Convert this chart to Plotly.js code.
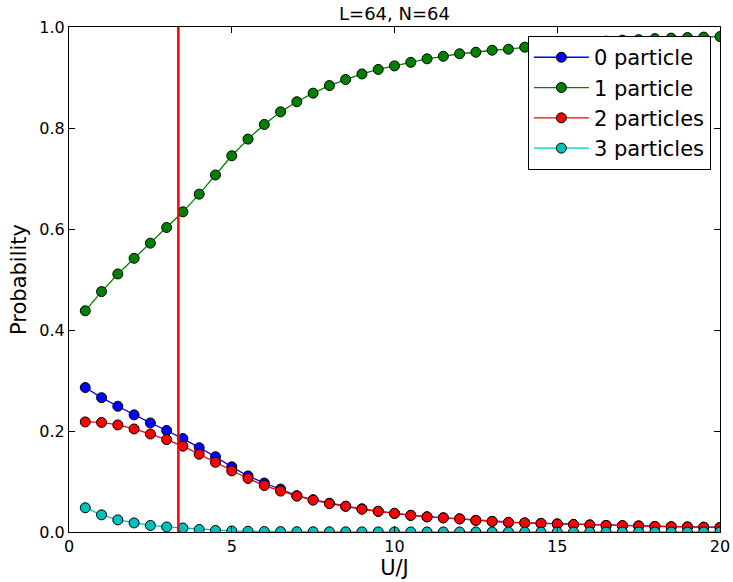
<!DOCTYPE html>
<html>
<head>
<meta charset="utf-8">
<script src="https://cdn.plot.ly/plotly-3.0.1.min.js"></script>
<style>html,body{margin:0;padding:0;background:#fff}#chart{width:733px;height:582px}</style>
</head>
<body>
<div id="chart"></div>
<script>
const uOverJ = [0.5,1,1.5,2,2.5,3,3.5,4,4.5,5,5.5,6,6.5,7,7.5,8,8.5,9,9.5,10,10.5,11,11.5,12,12.5,13,13.5,14,14.5,15,15.5,16,16.5,17,17.5,18,18.5,19,19.5,20];
const p0 = [0.286,0.266,0.249,0.232,0.216,0.201,0.185,0.167,0.149,0.129,0.111,0.097,0.085,0.072,0.064,0.057,0.051,0.046,0.041,0.037,0.033,0.030,0.028,0.026,0.023,0.021,0.019,0.018,0.017,0.016,0.015,0.014,0.013,0.0125,0.012,0.011,0.0105,0.010,0.0095,0.009];
const p1 = [0.438,0.476,0.511,0.542,0.572,0.603,0.634,0.669,0.707,0.745,0.778,0.807,0.832,0.852,0.869,0.884,0.896,0.907,0.916,0.923,0.930,0.937,0.942,0.947,0.950,0.954,0.956,0.960,0.963,0.966,0.968,0.970,0.972,0.974,0.975,0.977,0.978,0.979,0.980,0.981];
const p2 = [0.218,0.217,0.212,0.204,0.194,0.183,0.170,0.154,0.138,0.121,0.106,0.092,0.081,0.071,0.063,0.056,0.051,0.045,0.041,0.037,0.033,0.030,0.028,0.026,0.023,0.021,0.019,0.018,0.017,0.016,0.015,0.014,0.013,0.0125,0.012,0.011,0.0105,0.010,0.0095,0.009];
const p3 = [0.048,0.034,0.024,0.018,0.013,0.010,0.008,0.005,0.003,0.002,0.0015,0.001,0.0008,0.0006,0.0005,0.0004,0.0003,0.0002,0.0002,0.0001,0.0001,0.0001,0.0001,0,0,0,0,0,0,0,0,0,0,0,0,0,0,0,0,0];
const seriesNames = ['0 particle','1 particle','2 particles','3 particles'];
const seriesColors = ['#0000ff','#008000','#ff0000','#00bfbf'];
const criticalU = [3.36];
const xTicks = [0,5,10,15,20];
const yTicks = [0,0.2,0.4,0.6,0.8,1.0];

const font = 'DejaVu Sans, sans-serif';
const ys = [p0,p1,p2,p3];
const traces = ys.map((y,i)=>({
  x: uOverJ, y: y, name: seriesNames[i], type: 'scatter', mode: 'lines+markers',
  line: {color: seriesColors[i], width: 1.3},
  marker: {color: seriesColors[i], size: 10, line: {color: '#000', width: 1}}
}));

const axisCommon = {showline: true, linecolor: '#000', linewidth: 1, mirror: 'allticks',
  ticks: 'inside', ticklen: 6, tickcolor: '#000', showgrid: false, zeroline: false,
  tickfont: {family: font, size: 16, color: '#000'}};

const layout = {
  width: 733, height: 582,
  margin: {l: 69, r: 13, t: 27, b: 50},
  paper_bgcolor: '#fff', plot_bgcolor: '#fff',
  title: {text: 'L=64, N=64', font: {family: font, size: 18, color: '#000'},
    xref: 'paper', x: 0.5, yref: 'container', y: 1 - 14/582, yanchor: 'middle'},
  xaxis: Object.assign({}, axisCommon, {range: [0,20], tickvals: xTicks, ticktext: xTicks.map(String),
    title: {text: 'U/J', font: {family: font, size: 21, color: '#000'}, standoff: 1}}),
  yaxis: Object.assign({}, axisCommon, {range: [0,1], tickvals: yTicks, tickformat: '.1f',
    title: {text: 'Probability', font: {family: font, size: 21, color: '#000'}, standoff: 6}}),
  legend: {x: 0.986, xanchor: 'right', y: 0.982, yanchor: 'top', bgcolor: '#fff', itemwidth: 55,
    bordercolor: '#000', borderwidth: 1, font: {family: font, size: 21, color: '#000'}},
  shapes: criticalU.map(u => ({type: 'line', xref: 'x', yref: 'paper', x0: u, x1: u, y0: 0, y1: 1,
    line: {color: '#ff0000', width: 2.5}, layer: 'above'})),
  showlegend: true
};
Plotly.newPlot('chart', traces, layout, {displayModeBar: false, staticPlot: true});
</script>
</body>
</html>
